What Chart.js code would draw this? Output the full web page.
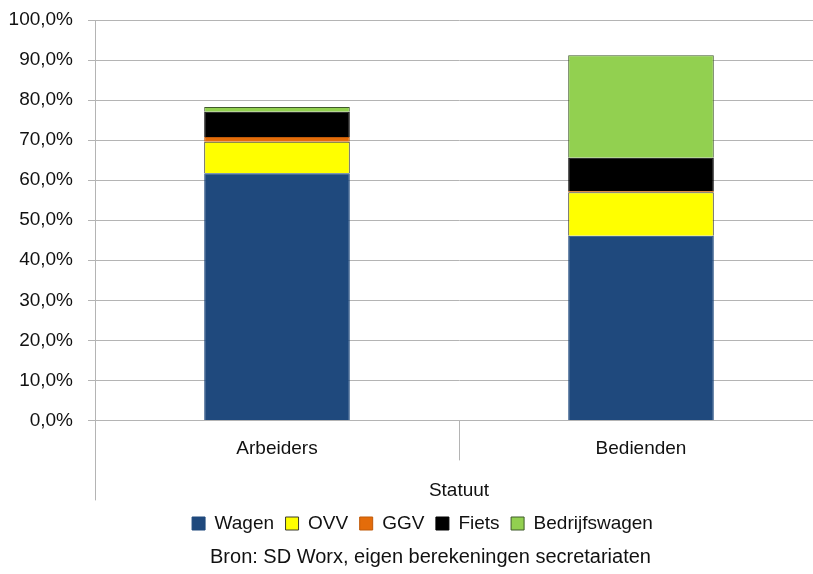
<!DOCTYPE html>
<html>
<head>
<meta charset="utf-8">
<script src="https://cdn.jsdelivr.net/npm/chart.js@4"></script>
<style>
html,body{margin:0;padding:0;background:#fff;overflow:hidden;}
#wrap{width:823px;height:574px;position:relative;}
</style>
</head>
<body>
<div id="wrap"><canvas id="c" width="823" height="574"></canvas></div>
<script>
const categories = ['Arbeiders', 'Bedienden'];
const wagen = [61.7, 46.1];
const ovv = [7.9, 10.9];
const ggv = [1.2, 0.3];
const fiets = [6.3, 8.3];
const bedrijfswagen = [1.2, 25.6];
const seriesNames = ['Wagen', 'OVV', 'GGV', 'Fiets', 'Bedrijfswagen'];
const yTicks = [0, 10, 20, 30, 40, 50, 60, 70, 80, 90, 100];
const xTitle = 'Statuut';
const sourceText = 'Bron: SD Worx, eigen berekeningen secretariaten';

const FONT = "'Liberation Sans Narrow', 'Arial Narrow', 'Liberation Sans', Arial, sans-serif";
const FS = 19;
const GRID = '#b4b4b4';
const colors = ['#1F497D', '#FFFF00', '#E46C0A', '#000000', '#92D050'];
const borders = ['#1F497D', '#3a3a2a', '#c05a08', '#000000', '#3f5a2a'];
const values = [wagen, ovv, ggv, fiets, bedrijfswagen];

const separators = {
  id: 'separators',
  afterLayout(chart) {
    // the original legend and source line sit slightly right of the canvas centre
    const shift = (box, dx) => { if (box) { box.left += dx; box.right += dx; } };
    shift(chart.legend, 11);
    shift(chart.titleBlock, 19);
  },
  afterDraw(chart) {
    const x = chart.scales.x;
    const area = chart.chartArea;
    const ctx = chart.ctx;
    ctx.save();
    ctx.strokeStyle = GRID;
    ctx.lineWidth = 1;
    const mid = (x.getPixelForValue(0) + x.getPixelForValue(1)) / 2;
    const leftX = Math.round(area.left) + 0.5;
    ctx.beginPath();
    ctx.moveTo(leftX, area.bottom);
    ctx.lineTo(leftX, area.bottom + 80);
    ctx.moveTo(Math.round(mid) + 0.5, area.bottom);
    ctx.lineTo(Math.round(mid) + 0.5, area.bottom + 40);
    ctx.stroke();
    ctx.restore();
  }
};

new Chart(document.getElementById('c'), {
  type: 'bar',
  data: {
    labels: categories,
    datasets: seriesNames.map((n, i) => ({
      label: n,
      data: values[i],
      backgroundColor: colors[i],
      borderColor: borders[i],
      borderWidth: 1,
      barPercentage: 0.4,
      categoryPercentage: 1.0
    }))
  },
  options: {
    responsive: false,
    animation: false,
    layout: { padding: { top: 20, left: 0, right: 0, bottom: 0 } },
    scales: {
      x: {
        stacked: true,
        grid: { display: false, drawTicks: false },
        border: { display: true, color: GRID },
        ticks: { color: '#111', font: { family: FONT, size: FS }, padding: 16.5 },
        title: { display: true, text: xTitle, color: '#111', font: { family: FONT, size: FS, lineHeight: 1 }, padding: { top: 0, bottom: 2.5 } },
        afterFit(s) { s.height = 82.1; s.paddingLeft = 0; s.paddingRight = 0; }
      },
      y: {
        stacked: true,
        min: 0, max: 100,
        afterBuildTicks(s) { s.ticks = yTicks.map(v => ({ value: v })); },
        grid: { color: GRID, tickLength: 7, tickColor: GRID },
        border: { display: true, color: GRID },
        ticks: {
          color: '#111',
          font: { family: FONT, size: FS },
          padding: 15,
          callback: v => v.toFixed(1).replace('.', ',') + '%'
        },
        afterFit(s) { s.width = 95; s.paddingTop = 0; s.paddingBottom = 0; }
      }
    },
    plugins: {
      legend: {
        position: 'bottom',
        labels: { boxWidth: 13, boxHeight: 13, padding: 11.5, color: '#111', font: { family: FONT, size: FS } }
      },
      title: {
        display: true,
        position: 'bottom',
        text: sourceText,
        color: '#111',
        font: { family: FONT, size: 20, weight: 'normal', lineHeight: 1.2 },
        padding: { top: 2, bottom: 5 }
      },
      tooltip: { enabled: false }
    }
  },
  plugins: [separators]
});
</script>
</body>
</html>
